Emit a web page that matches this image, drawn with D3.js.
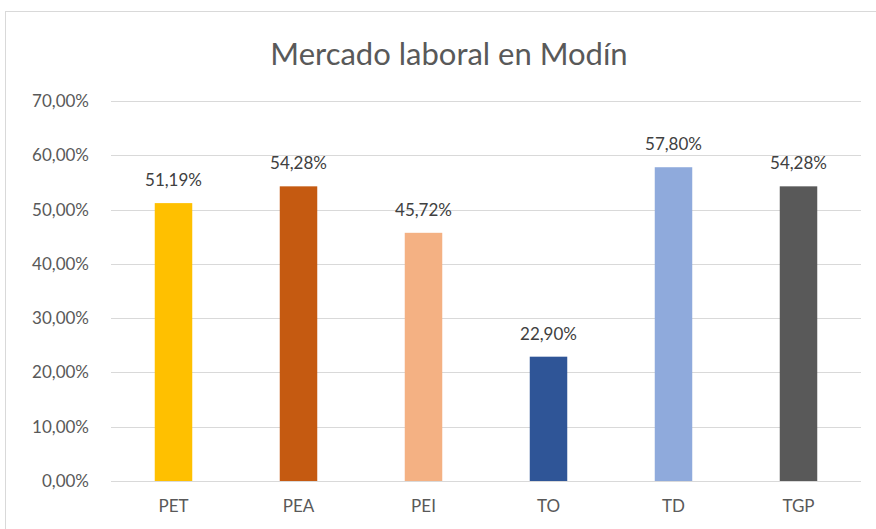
<!DOCTYPE html>
<meta charset="utf-8">
<style>
body { margin: 0; background: #fff; }
.title { font: 31px Lato, sans-serif; fill: #595959; }
.axis text { font: 17px Lato, sans-serif; fill: #595959; }
.grid line { stroke: #d9d9d9; stroke-width: 1; shape-rendering: crispEdges; }
.grid path { stroke-width: 0; }
.vlabel { font: 17px Lato, sans-serif; fill: #404040; }
</style>
<body>
<script src="https://d3js.org/d3.v7.min.js"></script>
<script>

var categories = ["PET", "PEA", "PEI", "TO", "TD", "TGP"];
var values = [51.19, 54.28, 45.72, 22.90, 57.80, 54.28];
var colors = ["#ffc000", "#c55a11", "#f4b183", "#2f5597", "#8faadc", "#595959"];
var yTicks = [0, 10, 20, 30, 40, 50, 60, 70];

var W = 876, H = 529;
var margin = {top: 101, right: 15, bottom: 48, left: 111},
    width = W - margin.left - margin.right,
    height = H - margin.top - margin.bottom;

var fmt = function(v) { return d3.format(".2f")(v).replace(".", ",") + "%"; };

var svg = d3.select("body").append("svg")
    .attr("width", W)
    .attr("height", H);

// chart border
svg.append("rect")
    .attr("x", 5.5).attr("y", 11.5)
    .attr("width", W + 20).attr("height", H + 20)
    .attr("fill", "none")
    .attr("stroke", "#d9d9d9");

svg.append("text")
    .attr("class", "title")
    .attr("x", 449)
    .attr("y", 65)
    .attr("text-anchor", "middle")
    .text("Mercado laboral en Modín");

var g = svg.append("g")
    .attr("transform", "translate(" + margin.left + "," + margin.top + ")");

var x = d3.scaleBand()
    .domain(categories)
    .range([0, width])
    .paddingInner(0.7)
    .paddingOuter(0.35);

var y = d3.scaleLinear()
    .domain([0, 70])
    .range([height, 0]);

// gridlines
g.append("g")
    .attr("class", "grid")
    .call(d3.axisLeft(y).tickValues(yTicks).tickSize(-width).tickFormat(""));

// y axis labels
var ya = g.append("g")
    .attr("class", "axis")
    .call(d3.axisLeft(y).tickValues(yTicks).tickSize(0).tickPadding(22).tickFormat(fmt));
ya.select(".domain").remove();

// x axis labels
var xa = g.append("g")
    .attr("class", "axis")
    .attr("transform", "translate(0," + height + ")")
    .call(d3.axisBottom(x).tickSize(0).tickPadding(19));
xa.select(".domain").remove();

var data = categories.map(function(c, i) { return {cat: c, val: values[i], color: colors[i]}; });

g.selectAll(".bar")
    .data(data)
    .enter().append("rect")
    .attr("class", "bar")
    .attr("x", function(d) { return x(d.cat); })
    .attr("y", function(d) { return y(d.val); })
    .attr("width", x.bandwidth())
    .attr("height", function(d) { return height - y(d.val); })
    .attr("fill", function(d) { return d.color; });

g.selectAll(".vlabel")
    .data(data)
    .enter().append("text")
    .attr("class", "vlabel")
    .attr("x", function(d) { return x(d.cat) + x.bandwidth() / 2; })
    .attr("y", function(d) { return y(d.val) - 17; })
    .attr("text-anchor", "middle")
    .text(function(d) { return fmt(d.val); });

</script>
